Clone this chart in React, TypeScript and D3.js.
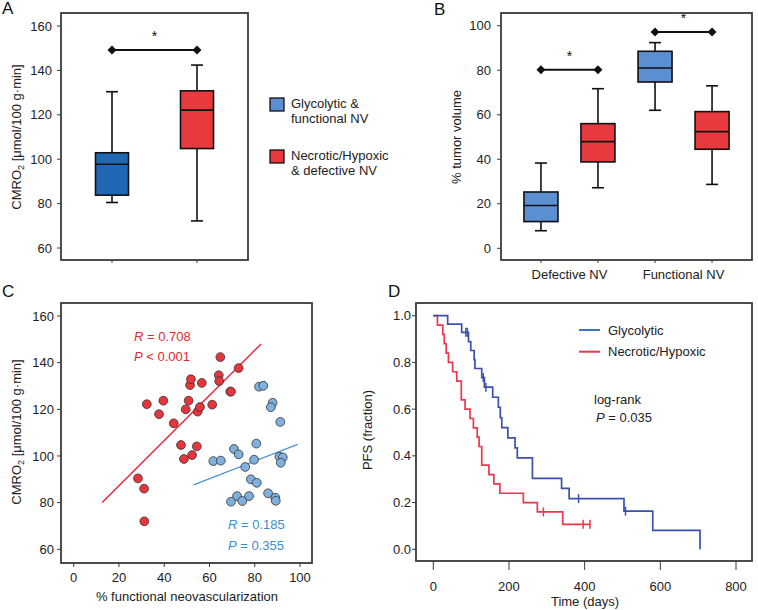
import * as d3 from "d3";

const FONT = '"Liberation Sans", Arial, Helvetica, sans-serif';

// Panel A: CMRO2 by group, box stats [min, q1, median, q3, max]
const groups = ["Glycolytic", "Necrotic/Hypoxic"];
const cmroBoxes = [
  [80.5, 83.8, 97.7, 102.9, 130.4],
  [72.2, 104.8, 122.1, 130.8, 142.4],
];
const cmroSig = 149.2;
const cmroTicks = [60, 80, 100, 120, 140, 160];

// Panel B: % tumor volume
const nvCategories = ["Defective NV", "Functional NV"];
const glycolyticVolume = [
  [7.9, 12.0, 19.2, 25.3, 38.3],
  [62.0, 74.7, 81.0, 88.5, 92.4],
];
const necroticVolume = [
  [27.2, 38.8, 47.9, 56.0, 71.7],
  [28.7, 44.5, 52.4, 61.4, 73.0],
];
const volumeSig = [80.2, 97.2];
const volumeTicks = [0, 20, 40, 60, 80, 100];

// Panel C: % functional NV vs CMRO2
const necroticPoints = [
  [32.3, 122.2], [37.7, 117.9], [39.6, 123.7], [44.2, 114.0], [47.4, 104.7],
  [48.7, 98.7], [49.5, 120.0], [50.8, 123.7], [51.4, 130.4], [51.8, 132.9],
  [54.4, 104.1], [52.3, 100.4], [54.8, 119.0], [55.8, 121.0], [56.6, 131.3],
  [61.2, 122.0], [64.1, 134.6], [64.3, 132.1], [64.8, 142.4], [69.2, 127.6],
  [69.5, 127.6], [72.9, 137.7], [28.4, 90.4], [31.1, 86.0], [31.2, 72.0],
];
const glycolyticPoints = [
  [81.9, 129.7], [83.8, 130.1], [87.9, 122.8], [87.1, 120.9], [91.3, 114.6],
  [80.7, 105.3], [70.8, 103.0], [72.9, 100.7], [79.7, 98.4], [61.7, 97.8],
  [65.0, 98.0], [75.8, 95.3], [90.9, 99.7], [92.4, 99.4], [91.5, 97.1],
  [78.3, 90.0], [80.9, 88.5], [85.9, 84.0], [72.2, 82.8], [77.5, 82.8],
  [69.5, 80.4], [74.5, 80.7], [89.1, 82.1], [89.3, 80.8],
];
const necroticFit = [[12.6, 80.1], [82.8, 148.0]];
const glycolyticFit = [[53.0, 87.6], [99.0, 105.0]];
const scatterXTicks = [0, 20, 40, 60, 80, 100];
const scatterYTicks = [60, 80, 100, 120, 140, 160];

// Panel D: Kaplan-Meier PFS, [days, survival after step]
const glycolyticKM = [
  [0, 1.0], [38, 0.964], [75, 0.929], [93, 0.889], [99, 0.851], [108, 0.812],
  [110, 0.774], [128, 0.735], [135, 0.694], [157, 0.651], [172, 0.608],
  [177, 0.564], [181, 0.521], [197, 0.477], [216, 0.434], [222, 0.391],
  [262, 0.304], [339, 0.261], [359, 0.217], [504, 0.163], [580, 0.081], [705, 0],
];
const glycolyticCensor = [[86, 0.929], [90, 0.929], [132, 0.735], [139, 0.694], [384, 0.217], [508, 0.163]];
const necroticKM = [
  [0, 1.0], [11, 0.96], [25, 0.92], [29, 0.88], [34, 0.84], [40, 0.8],
  [51, 0.76], [62, 0.72], [74, 0.64], [84, 0.6], [97, 0.56], [106, 0.52],
  [116, 0.48], [121, 0.44], [128, 0.36], [147, 0.32], [160, 0.28], [176, 0.24],
  [238, 0.2], [275, 0.16], [342, 0.107],
];
const necroticCensor = [[291, 0.16], [396, 0.107], [414, 0.107]];
const kmXTicks = [0, 200, 400, 600, 800];
const kmYTicks = [0, 0.2, 0.4, 0.6, 0.8, 1.0];

const BLUE_A = "#2068b4";
const BLUE_B = "#5b8fd2";
const RED = "#e8393e";

const fmt1 = d3.format(".1f");

function Frame({ f }: { f: { l: number; r: number; t: number; b: number } }) {
  return <rect x={f.l} y={f.t} width={f.r - f.l} height={f.b - f.t} fill="none" stroke="#3a3a3a" strokeWidth={1.8} />;
}

function YAxis({ scale, ticks, x, gap = 9, format = (d: number) => String(d) }: any) {
  return (
    <g>
      {ticks.map((t: number) => (
        <g key={t}>
          <line x1={x - 4} x2={x} y1={scale(t)} y2={scale(t)} stroke="#3a3a3a" strokeWidth={1} />
          <text x={x - gap} y={scale(t)} dy="0.35em" textAnchor="end" fontSize={13} fill="#222">{format(t)}</text>
        </g>
      ))}
    </g>
  );
}

function Box({ cx, y, s, fill, w }: { cx: number; y: any; s: number[]; fill: string; w: number }) {
  const [lo, q1, med, q3, hi] = s;
  return (
    <g stroke="#111" strokeWidth={1.6}>
      <line x1={cx} x2={cx} y1={y(hi)} y2={y(q3)} />
      <line x1={cx} x2={cx} y1={y(q1)} y2={y(lo)} />
      <line x1={cx - 6} x2={cx + 6} y1={y(hi)} y2={y(hi)} />
      <line x1={cx - 6} x2={cx + 6} y1={y(lo)} y2={y(lo)} />
      <rect x={cx - w / 2} y={y(q3)} width={w} height={y(q1) - y(q3)} fill={fill} />
      <line x1={cx - w / 2} x2={cx + w / 2} y1={y(med)} y2={y(med)} />
    </g>
  );
}

const diamond = d3.symbol(d3.symbolSquare, 40)();

function Sig({ x1, x2, yv }: { x1: number; x2: number; yv: number }) {
  return (
    <g>
      <line x1={x1} x2={x2} y1={yv} y2={yv} stroke="#111" strokeWidth={2} />
      <path d={diamond as string} transform={`translate(${x1},${yv}) rotate(45)`} fill="#111" />
      <path d={diamond as string} transform={`translate(${x2},${yv}) rotate(45)`} fill="#111" />
      <text x={(x1 + x2) / 2} y={yv - 9} textAnchor="middle" fontSize={14} fill="#111">*</text>
    </g>
  );
}

function Cmro({ x, y }: { x: number; y: number }) {
  return (
    <text transform={`translate(${x},${y}) rotate(-90)`} textAnchor="middle" fontSize={13} fill="#222">
      CMRO<tspan fontSize={9} dy={3}>2</tspan><tspan dy={-3}> [μmol/100 g·min]</tspan>
    </text>
  );
}

export default function App() {
  // Panel A
  const fA = { l: 61, r: 248, t: 13, b: 260 };
  const yA = d3.scaleLinear().domain([60, 160]).range([248, 26]);
  const xA = d3.scalePoint<string>().domain(groups).range([fA.l, fA.r]).padding(0.6);

  // Panel B
  const fB = { l: 501, r: 752, t: 13, b: 260 };
  const yB = d3.scaleLinear().domain([0, 100]).range([248.3, 25.7]);
  const xB = d3.scalePoint<string>().domain(nvCategories).range([fB.l, fB.r]).padding(0.6);
  const subB = d3.scalePoint<string>().domain(groups).range([-28.5, 28.5]);

  // Panel C
  const fC = { l: 61, r: 312, t: 303, b: 563 };
  const xC = d3.scaleLinear().domain([0, 100]).range([73.7, 300]);
  const yC = d3.scaleLinear().domain([60, 160]).range([549.3, 316]);
  const fitLine = d3.line<number[]>().x((d) => xC(d[0])).y((d) => yC(d[1]));

  // Panel D
  const fD = { l: 416, r: 752, t: 303, b: 561 };
  const xD = d3.scaleLinear().domain([0, 800]).range([433.3, 736]);
  const yD = d3.scaleLinear().domain([0, 1]).range([549.3, 315.7]);
  const step = d3.line<number[]>().x((d) => xD(d[0])).y((d) => yD(d[1])).curve(d3.curveStepAfter);
  const necroticEnd = d3.max(necroticCensor, (d) => d[0]) ?? 0;
  const necroticPath = [...necroticKM, [necroticEnd, necroticKM[necroticKM.length - 1][1]]];

  const boxW = 33;

  return (
    <svg width={758} height={610} style={{ position: "absolute", left: 0, top: 0, background: "#fff" }} fontFamily={FONT}>
      {/* panel letters */}
      <text x={2} y={14} fontSize={17} fill="#111">A</text>
      <text x={434} y={15} fontSize={17} fill="#111">B</text>
      <text x={2} y={297} fontSize={17} fill="#111">C</text>
      <text x={388} y={297} fontSize={17} fill="#111">D</text>

      {/* ---- A ---- */}
      <rect x={fA.l} y={fA.t} width={fA.r - fA.l} height={fA.b - fA.t} fill="#fff" />
      {groups.map((g, i) => (
        <Box key={g} cx={xA(g)!} y={yA} s={cmroBoxes[i]} fill={i === 0 ? BLUE_A : RED} w={boxW} />
      ))}
      <Sig x1={xA(groups[0])!} x2={xA(groups[1])!} yv={yA(cmroSig)} />
      <Frame f={fA} />
      <YAxis scale={yA} ticks={cmroTicks} x={fA.l} />
      {groups.map((g) => (
        <line key={g} x1={xA(g)} x2={xA(g)} y1={fA.b} y2={fA.b + 3} stroke="#3a3a3a" />
      ))}
      <Cmro x={21} y={137} />

      {/* legend */}
      {[
        { c: BLUE_B, l1: "Glycolytic &", l2: "functional NV" },
        { c: RED, l1: "Necrotic/Hypoxic", l2: "& defective NV" },
      ].map((d, i) => (
        <g key={i} transform={`translate(270,${98 + i * 52})`}>
          <rect width={14} height={13} fill={d.c} stroke="#111" strokeWidth={1.3} />
          <text x={21} y={9.5} fontSize={13} fill="#222">{d.l1}</text>
          <text x={21} y={24.5} fontSize={13} fill="#222">{d.l2}</text>
        </g>
      ))}

      {/* ---- B ---- */}
      {nvCategories.map((c, i) => (
        <g key={c}>
          <Box cx={xB(c)! + subB(groups[0])!} y={yB} s={glycolyticVolume[i]} fill={BLUE_B} w={34} />
          <Box cx={xB(c)! + subB(groups[1])!} y={yB} s={necroticVolume[i]} fill={RED} w={34} />
          <Sig x1={xB(c)! + subB(groups[0])!} x2={xB(c)! + subB(groups[1])!} yv={yB(volumeSig[i])} />
          {groups.map((g) => (
            <line key={g} x1={xB(c)! + subB(g)!} x2={xB(c)! + subB(g)!} y1={fB.b} y2={fB.b + 3} stroke="#3a3a3a" />
          ))}
          <text x={xB(c)} y={279} textAnchor="middle" fontSize={13} fill="#222">{c}</text>
        </g>
      ))}
      <Frame f={fB} />
      <YAxis scale={yB} ticks={volumeTicks} x={fB.l} gap={10} />
      <text transform={`translate(461,137) rotate(-90)`} textAnchor="middle" fontSize={13} fill="#222">% tumor volume</text>

      {/* ---- C ---- */}
      <path d={fitLine(necroticFit) ?? ""} stroke="#e8263a" strokeWidth={1.5} fill="none" />
      <path d={fitLine(glycolyticFit) ?? ""} stroke="#4a90d0" strokeWidth={1.3} fill="none" />
      {glycolyticPoints.map((p, i) => (
        <circle key={"g" + i} cx={xC(p[0])} cy={yC(p[1])} r={4.4} fill="#7fb0de" stroke="#333" strokeWidth={0.8} />
      ))}
      {necroticPoints.map((p, i) => (
        <circle key={"n" + i} cx={xC(p[0])} cy={yC(p[1])} r={4.4} fill="#e8353c" stroke="#333" strokeWidth={0.8} />
      ))}
      <Frame f={fC} />
      <YAxis scale={yC} ticks={scatterYTicks} x={fC.l} gap={7} />
      {scatterXTicks.map((t) => (
        <g key={t}>
          <line x1={xC(t)} x2={xC(t)} y1={fC.b} y2={fC.b + 4} stroke="#3a3a3a" />
          <text x={xC(t)} y={577} dy="0.35em" textAnchor="middle" fontSize={13} fill="#222">{t}</text>
        </g>
      ))}
      <text x={187} y={601} textAnchor="middle" fontSize={13} fill="#222">% functional neovascularization</text>
      <Cmro x={21} y={432} />
      <g fontSize={13}>
        <text x={134} y={341} fill="#e8262e"><tspan fontStyle="italic">R</tspan> = 0.708</text>
        <text x={134} y={361} fill="#e8262e"><tspan fontStyle="italic">P</tspan> &lt; 0.001</text>
        <text x={228} y={529} fill="#3a8fd0"><tspan fontStyle="italic">R</tspan> = 0.185</text>
        <text x={228} y={550} fill="#3a8fd0"><tspan fontStyle="italic">P</tspan> = 0.355</text>
      </g>

      {/* ---- D ---- */}
      <path d={step(necroticPath) ?? ""} stroke="#f0364a" strokeWidth={1.7} fill="none" />
      <path d={step(glycolyticKM) ?? ""} stroke="#3b50b0" strokeWidth={1.7} fill="none" />
      {necroticCensor.map((c, i) => (
        <line key={"nc" + i} x1={xD(c[0])} x2={xD(c[0])} y1={yD(c[1]) - 4.5} y2={yD(c[1]) + 4.5} stroke="#f0364a" strokeWidth={1.5} />
      ))}
      {glycolyticCensor.map((c, i) => (
        <line key={"gc" + i} x1={xD(c[0])} x2={xD(c[0])} y1={yD(c[1]) - 4.5} y2={yD(c[1]) + 4.5} stroke="#3b50b0" strokeWidth={1.5} />
      ))}
      <Frame f={fD} />
      <YAxis scale={yD} ticks={kmYTicks} x={fD.l} gap={5} format={fmt1} />
      {kmXTicks.map((t) => (
        <g key={t}>
          <line x1={xD(t)} x2={xD(t)} y1={fD.b} y2={fD.b + 9} stroke="#3a3a3a" />
          <text x={xD(t)} y={586} dy="0.35em" textAnchor="middle" fontSize={13} fill="#222">{t}</text>
        </g>
      ))}
      <text x={585} y={606} textAnchor="middle" fontSize={13} fill="#222">Time (days)</text>
      <text transform={`translate(372,430) rotate(-90)`} textAnchor="middle" fontSize={13} fill="#222">PFS (fraction)</text>
      {[
        { c: "#3d75c2", l: "Glycolytic" },
        { c: "#f0364a", l: "Necrotic/Hypoxic" },
      ].map((d, i) => (
        <g key={d.l} transform={`translate(579,${330 + i * 21.7})`}>
          <line x1={0} x2={21} y1={0} y2={0} stroke={d.c} strokeWidth={2} />
          <text x={29} y={0} dy="0.35em" fontSize={13} fill="#222">{d.l}</text>
        </g>
      ))}
      <text x={594} y={404} fontSize={13} fill="#222">log-rank</text>
      <text x={596} y={422} fontSize={13} fill="#222"><tspan fontStyle="italic">P</tspan> = 0.035</text>
    </svg>
  );
}
